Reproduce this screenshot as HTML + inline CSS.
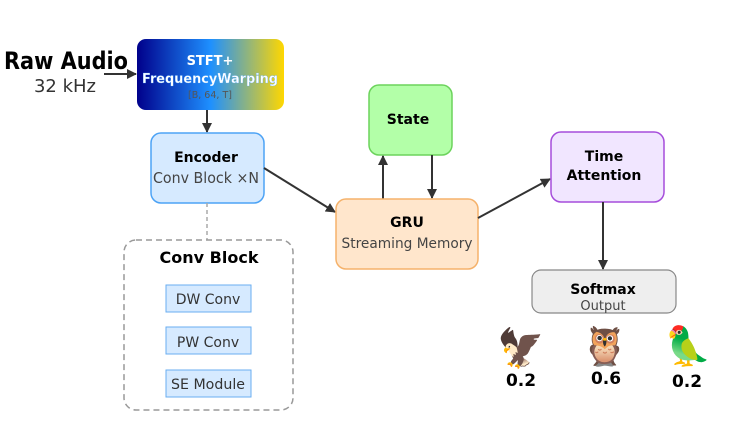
<!DOCTYPE html>
<html><head><meta charset="utf-8"><style>
body{margin:0;width:750px;height:420px;background:#fff;overflow:hidden;font-family:"DejaVu Sans","Liberation Sans",sans-serif}
</style></head><body>
<svg width="750" height="420" xmlns="http://www.w3.org/2000/svg" font-family="DejaVu Sans, Liberation Sans, sans-serif">
<defs>
<linearGradient id="g" x1="0" x2="1" y1="0" y2="0">
<stop offset="0" stop-color="#00008b"/><stop offset="0.5" stop-color="#1e90ff"/><stop offset="1" stop-color="#ffd700"/>
</linearGradient>
<marker id="a" markerWidth="10" markerHeight="10" refX="9" refY="5" orient="auto" markerUnits="userSpaceOnUse"><path d="M0,0 L10,5 L0,10 z" fill="#333"/></marker>
</defs>
<text x="4" y="69" font-size="24" font-weight="bold" fill="#000" textLength="124" lengthAdjust="spacingAndGlyphs">Raw Audio</text>
<text x="65" y="92" font-size="18" fill="#333" text-anchor="middle">32 kHz</text>
<line x1="104" y1="74" x2="136" y2="74" stroke="#333" stroke-width="2" marker-end="url(#a)"/>
<rect x="137" y="39" width="147" height="71" rx="9" fill="url(#g)"/>
<text x="210" y="65" font-size="13" font-weight="bold" fill="#fff" text-anchor="middle">STFT+</text>
<text x="210" y="83" font-size="13.5" font-weight="bold" fill="#fff" stroke="#5af" stroke-width="0.3" text-anchor="middle" textLength="136" lengthAdjust="spacingAndGlyphs">FrequencyWarping</text>
<text x="210" y="98" font-size="9.5" fill="#555" text-anchor="middle">[B, 64, T]</text>
<line x1="207" y1="110" x2="207" y2="132" stroke="#333" stroke-width="2" marker-end="url(#a)"/>
<rect x="151" y="133" width="113" height="70" rx="10" fill="#d6eaff" stroke="#4da3f5" stroke-width="1.5"/>
<text x="206" y="162" font-size="14" font-weight="bold" fill="#000" text-anchor="middle">Encoder</text>
<text x="206" y="183" font-size="15" fill="#444" text-anchor="middle" textLength="106" lengthAdjust="spacingAndGlyphs">Conv Block ×N</text>
<line x1="207" y1="203" x2="207" y2="240" stroke="#aaa" stroke-width="1.5" stroke-dasharray="4,3"/>
<rect x="124" y="240" width="169" height="170" rx="12" fill="#fff" stroke="#999" stroke-width="1.5" stroke-dasharray="6,4"/>
<text x="209" y="263" font-size="16" font-weight="bold" fill="#000" text-anchor="middle">Conv Block</text>
<g fill="#d6eaff" stroke="#6aaef0" stroke-width="1">
<rect x="166" y="285" width="85" height="27"/><rect x="166" y="327" width="85" height="27"/><rect x="166" y="370" width="85" height="27"/></g>
<g font-size="14" fill="#333" text-anchor="middle">
<text x="208" y="304">DW Conv</text><text x="208" y="347">PW Conv</text><text x="208" y="389" textLength="74" lengthAdjust="spacingAndGlyphs">SE Module</text></g>
<line x1="264" y1="168" x2="335" y2="212" stroke="#333" stroke-width="2" marker-end="url(#a)"/>
<rect x="369" y="85" width="83" height="70" rx="10" fill="#b3ffa8" stroke="#6cd35c" stroke-width="1.5"/>
<text x="408" y="124" font-size="14" font-weight="bold" fill="#000" text-anchor="middle">State</text>
<line x1="383" y1="199" x2="383" y2="156" stroke="#333" stroke-width="2" marker-end="url(#a)"/>
<line x1="432" y1="155" x2="432" y2="198" stroke="#333" stroke-width="2" marker-end="url(#a)"/>
<rect x="336" y="199" width="142" height="70" rx="10" fill="#ffe6cc" stroke="#f5b26b" stroke-width="1.5"/>
<text x="407" y="227" font-size="14" font-weight="bold" fill="#000" text-anchor="middle">GRU</text>
<text x="407" y="248" font-size="14" fill="#444" text-anchor="middle" textLength="131" lengthAdjust="spacingAndGlyphs">Streaming Memory</text>
<line x1="478" y1="218" x2="550" y2="179" stroke="#333" stroke-width="2" marker-end="url(#a)"/>
<rect x="551" y="132" width="113" height="70" rx="10" fill="#f1e6ff" stroke="#a64ddb" stroke-width="1.5"/>
<text x="604" y="161" font-size="14" font-weight="bold" fill="#000" text-anchor="middle">Time</text>
<text x="604" y="180" font-size="14" font-weight="bold" fill="#000" text-anchor="middle">Attention</text>
<line x1="603" y1="202" x2="603" y2="269" stroke="#333" stroke-width="2" marker-end="url(#a)"/>
<rect x="532" y="270" width="144" height="43" rx="9" fill="#eeeeee" stroke="#888" stroke-width="1.2"/>
<text x="603" y="294" font-size="14" font-weight="bold" fill="#000" text-anchor="middle">Softmax</text>
<text x="603" y="310" font-size="13" fill="#444" text-anchor="middle">Output</text>
<g font-size="38" text-anchor="middle">
<text x="521" y="361">🦅</text><text x="605" y="359">🦉</text><text x="688" y="359">🦜</text></g>
<g font-size="17" font-weight="bold" fill="#000" text-anchor="middle">
<text x="521" y="386">0.2</text><text x="606" y="384">0.6</text><text x="687" y="387">0.2</text></g>
</svg>
</body></html>
